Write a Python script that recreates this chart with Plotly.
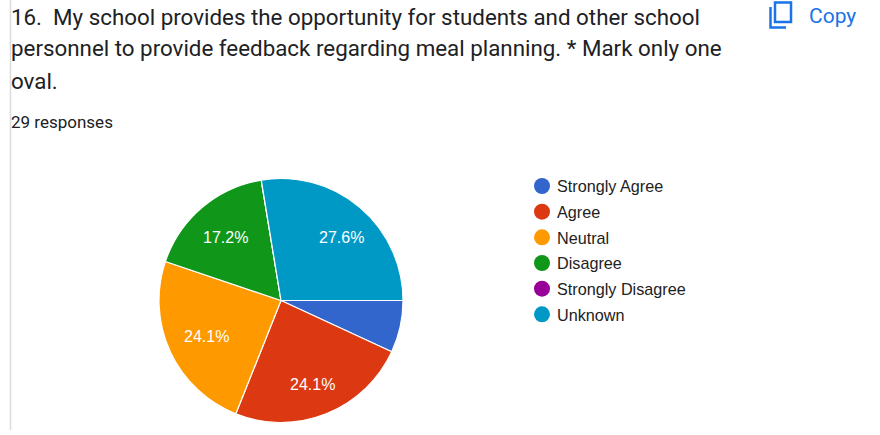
import math
import plotly.graph_objects as go

categories = ["Strongly Agree", "Agree", "Neutral", "Disagree", "Strongly Disagree", "Unknown"]
counts = [2, 7, 7, 5, 0, 8]
colors = ["#3366cc", "#dc3912", "#ff9900", "#109618", "#990099", "#0099c6"]
title_lines = [
    "16.  My school provides the opportunity for students and other school",
    "personnel to provide feedback regarding meal planning. * Mark only one",
    "oval.",
]
title_y = [17, 48, 81]
subtitle = "29 responses"
min_label_share = 0.10
W, H = 880, 435
CX, CY, R = 281, 300.5, 122
# small pixel adjustments of the percentage labels, one per slice
label_nudge = [(0, 0), (-1, 4), (4, 0), (1, 3), (0, 0), (4, 3)]


def px(x):
    return x / W


def py(y):
    return 1 - y / H


fig = go.Figure()
fig.add_trace(go.Pie(
    labels=categories, values=counts, sort=False, direction="clockwise", rotation=90,
    marker=dict(colors=colors, line=dict(color="white", width=1.2)),
    domain=dict(x=[px(CX - R), px(CX + R)], y=[py(CY + R), py(CY - R)]),
    textinfo="none", showlegend=False, hoverinfo="skip",
))
for name, color in zip(categories, colors):
    fig.add_trace(go.Scatter(
        x=[None], y=[None], mode="markers", name=name, legendgroup=name,
        marker=dict(symbol="circle", size=16, color=color),
    ))

annotations = [
    dict(x=px(9), y=py(y), text=t, xref="paper", yref="paper", xanchor="left", yanchor="middle",
         showarrow=False, font=dict(family="Roboto", size=22.35, color="#202124"))
    for t, y in zip(title_lines, title_y)
]
annotations.append(dict(x=px(9), y=py(122), text=subtitle, xref="paper", yref="paper", xanchor="left",
                        yanchor="middle", showarrow=False,
                        font=dict(family="Roboto", size=17, color="#202124")))
annotations.append(dict(x=px(807), y=py(16), text="Copy", xref="paper", yref="paper", xanchor="left",
                        yanchor="middle", showarrow=False,
                        font=dict(family="Roboto", size=21, color="#1a73e8")))

# Percentage labels: placed at 0.71 of the radius on each slice's mid angle.
total = sum(counts)
angle = 90.0
for c, (dx, dy) in zip(counts, label_nudge):
    share = c / total
    mid = math.radians(angle + share * 180)
    angle += share * 360
    if share >= min_label_share:
        annotations.append(dict(
            x=px(CX + 0.71 * R * math.sin(mid) + dx), y=py(CY - 0.71 * R * math.cos(mid) + dy),
            text=f"{share:.1%}", xref="paper", yref="paper", xanchor="center", yanchor="middle",
            showarrow=False, font=dict(family="Liberation Sans", size=16, color="white"),
        ))

shapes = [
    dict(type="line", xref="paper", yref="paper", x0=px(10.5), x1=px(10.5), y0=py(0), y1=py(430),
         line=dict(color="#dadce0", width=1.5)),
    dict(type="rect", xref="paper", yref="paper", x0=px(775), x1=px(791), y0=py(2.5), y1=py(22),
         line=dict(color="#1a73e8", width=2.5)),
    dict(type="path", xref="paper", yref="paper",
         path=f"M {px(770.5)} {py(7)} L {px(770.5)} {py(27.5)} L {px(786)} {py(27.5)}",
         line=dict(color="#1a73e8", width=2.5)),
]

fig.update_layout(
    width=W, height=H, margin=dict(l=0, r=0, t=0, b=0),
    paper_bgcolor="white", plot_bgcolor="white",
    xaxis=dict(visible=False, range=[0, 1]), yaxis=dict(visible=False, range=[0, 1]),
    legend=dict(x=px(517), y=py(169), xanchor="left", yanchor="top", traceorder="grouped",
                tracegroupgap=1.6, bgcolor="rgba(0,0,0,0)",
                font=dict(family="Liberation Sans", size=16.2, color="#222222"),
                itemclick=False, itemdoubleclick=False),
    annotations=annotations, shapes=shapes, showlegend=True, hovermode=False,
)
post = """
document.body.style.margin = '0';
document.querySelectorAll('.legend .legendpoints').forEach(function (g) {
  g.setAttribute('transform', 'translate(5,0)');
});
"""
fig.write_html("out.html", config=dict(displayModeBar=False), post_script=post)
